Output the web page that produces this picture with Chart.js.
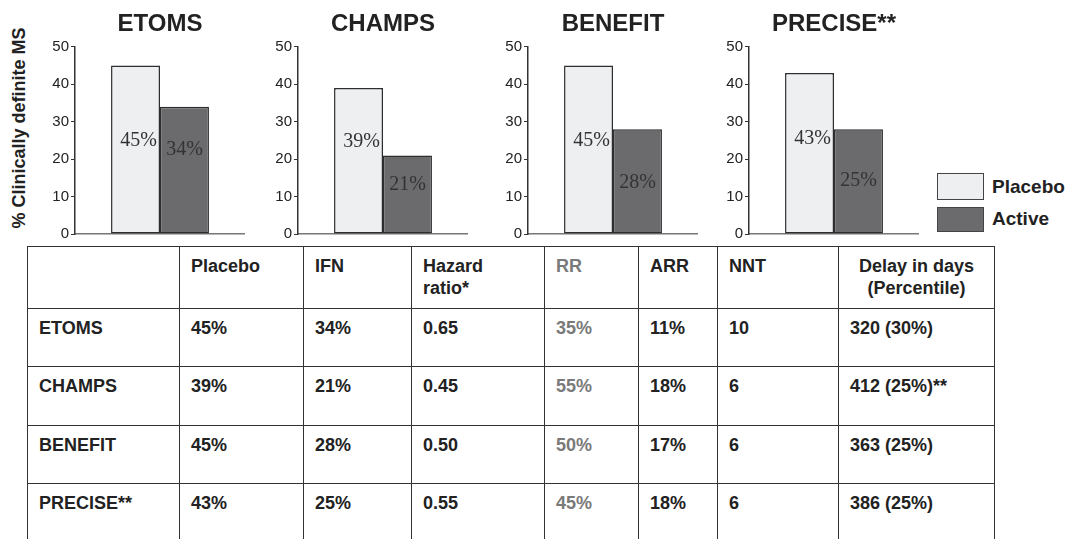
<!DOCTYPE html>
<html>
<head>
<meta charset="utf-8">
<script src="https://cdn.jsdelivr.net/npm/chart.js@4"></script>
<style>
  html, body { margin: 0; padding: 0; background: #fff; }
  body { width: 1070px; height: 539px; overflow: hidden; position: relative; font-family: "Liberation Sans", Arial, sans-serif; color: #222; }
  canvas.mini { position: absolute; top: 0; }
  #ytitle { position: absolute; left: 19px; top: 128px; transform: translate(-50%, -50%) rotate(-90deg); white-space: nowrap; font-weight: bold; font-size: 18px; color: #222; }
  .lg-box { position: absolute; left: 937px; width: 45px; border: 1.5px solid #444; }
  .lg-text { position: absolute; left: 992px; font-weight: bold; font-size: 19px; line-height: 22px; color: #222; }
  table { position: absolute; left: 27px; top: 246px; border-collapse: collapse; table-layout: fixed; width: 967px; }
  td { border: 1.5px solid #333; vertical-align: top; padding: 8px 6px 0 11px; font-weight: bold; font-size: 18px; line-height: 22px; color: #222; height: 49.5px; }
  tr.head td { height: 52.5px; }
  td.rr { color: #7a7a7a; }
  td.center { text-align: center; padding-left: 6px; }
</style>
</head>
<body>
<canvas class="mini" id="c0" width="210" height="245" style="left:35px"></canvas>
<canvas class="mini" id="c1" width="210" height="245" style="left:258px"></canvas>
<canvas class="mini" id="c2" width="210" height="245" style="left:488px"></canvas>
<canvas class="mini" id="c3" width="210" height="245" style="left:709px"></canvas>
<div id="ytitle">% Clinically definite MS</div>
<div class="lg-box" style="top:173px;height:25px;background:#eeeff1"></div>
<div class="lg-text" style="top:176px">Placebo</div>
<div class="lg-box" style="top:207px;height:23px;background:#6b6b6e"></div>
<div class="lg-text" style="top:208px">Active</div>
<table id="tbl"></table>
<script>
// bar chart data
const trials = ['ETOMS', 'CHAMPS', 'BENEFIT', 'PRECISE**'];
const placebo = [45, 39, 45, 43];
const active = [34, 21, 28, 28];
const placeboText = ['45%', '39%', '45%', '43%'];
const activeText = ['34%', '21%', '28%', '25%'];
const yTicks = [0, 10, 20, 30, 40, 50];

// table data
const columns = ['', 'Placebo', 'IFN', 'Hazard<br>ratio*', 'RR', 'ARR', 'NNT', 'Delay in days<br>(Percentile)'];
const placeboPct = ['45%', '39%', '45%', '43%'];
const ifnPct = ['34%', '21%', '28%', '25%'];
const hazard = ['0.65', '0.45', '0.50', '0.55'];
const rr = ['35%', '55%', '50%', '45%'];
const arr = ['11%', '18%', '17%', '18%'];
const nnt = ['10', '6', '6', '6'];
const delay = ['320 (30%)', '412 (25%)**', '363 (25%)', '386 (25%)'];

// where the percent labels sit inside the bars (y value units)
const placeboLabelY = [25, 24.7, 25, 25.5];
const activeLabelY = [22.4, 13.2, 13.7, 14.2];

const PLACEBO_FILL = '#eeeff1';
const ACTIVE_FILL = '#6b6b6e';
const colWidths = [152, 124, 108, 133, 94, 79, 121, 156];

const barText = {
  id: 'barText',
  afterDatasetsDraw(chart, args, opts) {
    const ctx = chart.ctx;
    const y = chart.scales.y;
    ctx.save();
    ctx.font = '20px "Liberation Serif", "Times New Roman", serif';
    ctx.fillStyle = '#333';
    ctx.textAlign = 'center';
    ctx.textBaseline = 'middle';
    const b0 = chart.getDatasetMeta(0).data[0];
    const b1 = chart.getDatasetMeta(1).data[0];
    ctx.fillText(opts.texts[0], b0.x + 3, y.getPixelForValue(opts.at[0]));
    ctx.fillText(opts.texts[1], b1.x, y.getPixelForValue(opts.at[1]));
    ctx.restore();
  }
};

trials.forEach((name, i) => {
  new Chart(document.getElementById('c' + i), {
    type: 'bar',
    data: {
      labels: [name],
      datasets: [
        { label: 'Placebo', data: [placebo[i]], backgroundColor: PLACEBO_FILL, borderColor: '#2e2e2e', borderWidth: 1.5, borderSkipped: false },
        { label: 'Active', data: [active[i]], backgroundColor: ACTIVE_FILL, borderColor: '#2e2e2e', borderWidth: 1.5, borderSkipped: false }
      ]
    },
    options: {
      responsive: false,
      animation: false,
      layout: { padding: 0 },
      datasets: { bar: { barPercentage: 1, categoryPercentage: 0.576 } },
      plugins: {
        legend: { display: false },
        tooltip: { enabled: false },
        title: {
          display: true,
          text: name,
          fullSize: false,
          color: '#222',
          font: { family: '"Liberation Sans", Arial, sans-serif', size: 24, weight: 'bold', lineHeight: 1.2 },
          padding: { top: 10, bottom: 8 }
        },
        barText: { texts: [placeboText[i], activeText[i]], at: [placeboLabelY[i], activeLabelY[i]] }
      },
      scales: {
        x: {
          grid: { display: false },
          ticks: { display: false },
          border: { color: '#777', width: 1.5 },
          afterFit: s => { s.height = 8; }
        },
        y: {
          min: 0,
          max: 50,
          afterBuildTicks: s => { s.ticks = yTicks.map(v => ({ value: v })); },
          ticks: { color: '#222', padding: 2, font: { family: '"Liberation Sans", Arial, sans-serif', size: 15 } },
          grid: { drawOnChartArea: false, drawTicks: true, tickLength: 4, color: '#333', lineWidth: 1 },
          border: { color: '#333', width: 1.5 },
          afterFit: s => { s.width = 40; }
        }
      }
    },
    plugins: [barText]
  });
});

// table
const tbl = document.getElementById('tbl');
const cg = document.createElement('colgroup');
colWidths.forEach(w => { const c = document.createElement('col'); c.style.width = w + 'px'; cg.appendChild(c); });
tbl.appendChild(cg);
let html = '<tr class="head">' + columns.map((c, j) =>
  '<td class="' + (j === 4 ? 'rr' : '') + (j === 7 ? ' center' : '') + '">' + c + '</td>').join('') + '</tr>';
trials.forEach((name, i) => {
  html += '<tr><td>' + name + '</td><td>' + placeboPct[i] + '</td><td>' + ifnPct[i] + '</td><td>' + hazard[i] +
    '</td><td class="rr">' + rr[i] + '</td><td>' + arr[i] + '</td><td>' + nnt[i] + '</td><td>' + delay[i] + '</td></tr>';
});
tbl.insertAdjacentHTML('beforeend', html);
</script>
</body>
</html>
